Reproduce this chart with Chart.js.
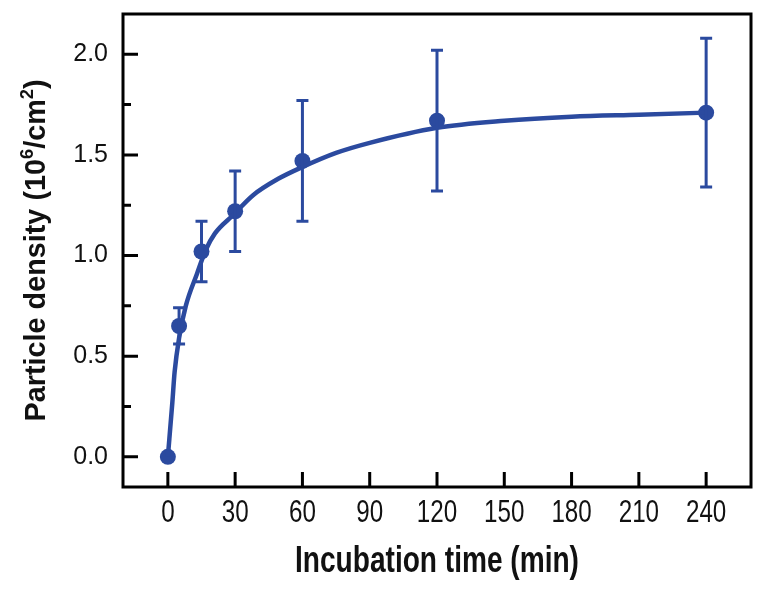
<!DOCTYPE html>
<html>
<head>
<meta charset="utf-8">
<script src="https://cdn.jsdelivr.net/npm/chart.js@4.4.0/dist/chart.umd.min.js"></script>
<style>
  body { margin: 0; background: #fff; }
  #wrap { width: 771px; height: 591px; }
</style>
</head>
<body>
<div id="wrap"><canvas id="densityChart" width="771" height="591"></canvas></div>
<script>
// measured points (incubation time in min, density in 10^6/cm^2)
const times = [0, 5, 15, 30, 60, 120, 240];
const density = [0, 0.65, 1.02, 1.22, 1.47, 1.67, 1.71];
const errLow = [0, 0.56, 0.87, 1.02, 1.17, 1.32, 1.34];
const errHigh = [0, 0.74, 1.17, 1.42, 1.77, 2.02, 2.08];

// fitted curve
const fitTimes = [0, 2, 3, 5, 8, 13, 17, 21, 29, 38, 49, 60, 75, 90, 120, 150, 180, 210, 240];
const fitDensity = [0, 0.27, 0.42, 0.59, 0.75, 0.91, 1.03, 1.11, 1.20, 1.30, 1.38, 1.44, 1.51, 1.56, 1.635, 1.67, 1.69, 1.70, 1.71];

const xTicks = [0, 30, 60, 90, 120, 150, 180, 210, 240];
const xTickLabels = ['0', '30', '60', '90', '120', '150', '180', '210', '240'];
const yTicks = [0, 0.5, 1.0, 1.5, 2.0];
const yMinorTicks = [0.25, 0.75, 1.25, 1.75];
const yTickLabels = ['0.0', '0.5', '1.0', '1.5', '2.0'];

const blue = '#2b4a9f';
const narrow = 0.78; // squeeze to look like Arial Narrow

// draws text squeezed horizontally around (x, y)
function narrowText(ctx, text, x, y) {
    ctx.save();
    ctx.translate(x, y);
    ctx.scale(narrow, 1);
    ctx.fillText(text, 0, 0);
    ctx.restore();
}

const decorations = {
    id: 'decorations',
    afterDatasetsDraw(chart) {
        const ctx = chart.ctx;
        const xs = chart.scales.x, ys = chart.scales.y;
        ctx.save();
        ctx.strokeStyle = blue;
        ctx.lineWidth = 3;
        times.forEach(function(t, i) {
            if (errHigh[i] === errLow[i]) return;
            const px = xs.getPixelForValue(t);
            const top = ys.getPixelForValue(errHigh[i]);
            const bot = ys.getPixelForValue(errLow[i]);
            ctx.beginPath();
            ctx.moveTo(px, top); ctx.lineTo(px, bot);
            ctx.moveTo(px - 6, top); ctx.lineTo(px + 6, top);
            ctx.moveTo(px - 6, bot); ctx.lineTo(px + 6, bot);
            ctx.stroke();
        });
        ctx.restore();
    },
    afterDraw(chart) {
        const ctx = chart.ctx;
        const a = chart.chartArea;
        const xs = chart.scales.x, ys = chart.scales.y;
        ctx.save();
        ctx.strokeStyle = '#000';
        ctx.lineWidth = 3;
        ctx.strokeRect(a.left, a.top, a.right - a.left, a.bottom - a.top);

        // inward ticks
        ctx.beginPath();
        xTicks.forEach(function(v) {
            const px = xs.getPixelForValue(v);
            ctx.moveTo(px, a.bottom); ctx.lineTo(px, a.bottom - 15);
        });
        yTicks.forEach(function(v) {
            const py = ys.getPixelForValue(v);
            ctx.moveTo(a.left, py); ctx.lineTo(a.left + 15, py);
        });
        yMinorTicks.forEach(function(v) {
            const py = ys.getPixelForValue(v);
            ctx.moveTo(a.left, py); ctx.lineTo(a.left + 8, py);
        });
        ctx.stroke();

        // x tick labels, narrow
        ctx.fillStyle = '#111';
        ctx.textAlign = 'center';
        ctx.textBaseline = 'middle';
        ctx.font = '31px "Liberation Sans", Arial, sans-serif';
        xTicks.forEach(function(v, i) {
            narrowText(ctx, xTickLabels[i], xs.getPixelForValue(v), a.bottom + 26);
        });

        // axis titles
        ctx.font = 'bold 36px "Liberation Sans", Arial, sans-serif';
        narrowText(ctx, 'Incubation time (min)', (a.left + a.right) / 2, 562);

        const parts = [
            ['Particle density (10', false],
            ['6', true],
            ['/cm', false],
            ['2', true],
            [')', false]
        ];
        const mainFont = 'bold 30px "Liberation Sans", Arial, sans-serif';
        const supFont = 'bold 19px "Liberation Sans", Arial, sans-serif';
        let total = 0;
        parts.forEach(function(p) {
            ctx.font = p[1] ? supFont : mainFont;
            total += ctx.measureText(p[0]).width;
        });
        ctx.translate(45, (a.top + a.bottom) / 2);
        ctx.rotate(-Math.PI / 2);
        ctx.scale(0.96, 1);
        ctx.textAlign = 'left';
        ctx.textBaseline = 'alphabetic';
        let sx = -total / 2;
        parts.forEach(function(p) {
            ctx.font = p[1] ? supFont : mainFont;
            ctx.fillText(p[0], sx, p[1] ? -12 : 0);
            sx += ctx.measureText(p[0]).width;
        });
        ctx.restore();
    }
};

new Chart(document.getElementById('densityChart').getContext('2d'), {
    data: {
        datasets: [{
            type: 'line',
            data: fitTimes.map(function(t, i) { return { x: t, y: fitDensity[i] }; }),
            borderColor: blue,
            borderWidth: 4.5,
            pointRadius: 0,
            cubicInterpolationMode: 'monotone',
            fill: false
        }, {
            type: 'scatter',
            data: times.map(function(t, i) { return { x: t, y: density[i] }; }),
            backgroundColor: blue,
            borderColor: blue,
            pointRadius: 8,
            borderWidth: 0
        }]
    },
    options: {
        responsive: false,
        animation: false,
        layout: { padding: { top: 14, right: 20, left: 0, bottom: 0 } },
        plugins: {
            legend: { display: false },
            tooltip: { enabled: false }
        },
        scales: {
            x: {
                type: 'linear',
                min: -20,
                max: 260,
                afterFit: function(scale) {
                    scale.height = 104;
                    scale.paddingLeft = 0;
                    scale.paddingRight = 0;
                },
                afterBuildTicks: function(scale) {
                    scale.ticks = xTicks.map(function(v) { return { value: v }; });
                },
                grid: { display: false, drawTicks: false },
                border: { display: false },
                ticks: { display: false }
            },
            y: {
                type: 'linear',
                min: -0.15,
                max: 2.2,
                afterFit: function(scale) {
                    scale.width = 123;
                    scale.paddingTop = 0;
                    scale.paddingBottom = 0;
                },
                afterBuildTicks: function(scale) {
                    scale.ticks = yTicks.map(function(v) { return { value: v }; });
                },
                grid: { display: false, drawTicks: false },
                border: { display: false },
                ticks: {
                    padding: 15,
                    color: '#111',
                    font: { family: '"Liberation Sans", Arial, sans-serif', size: 25 },
                    callback: function(v) {
                        const i = yTicks.indexOf(v);
                        return i >= 0 ? yTickLabels[i] : '';
                    }
                }
            }
        }
    },
    plugins: [decorations]
});
</script>
</body>
</html>
